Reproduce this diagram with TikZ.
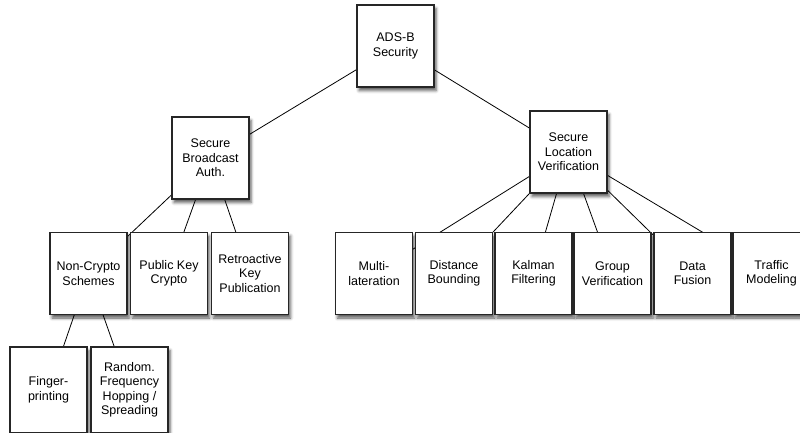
\documentclass[tikz,border=0pt]{standalone}
\usepackage{fontspec}
\setmainfont{Liberation Sans}
\usetikzlibrary{shadows.blur,backgrounds}
\tikzset{
  box/.style={draw=black!85, line width=1.3pt, fill=white, minimum width=77pt, minimum height=82pt,
    inner sep=0pt, align=center, font=\fontsize{12.5}{14.5}\selectfont,
    blur shadow={shadow xshift=2pt, shadow yshift=-3.5pt, shadow blur radius=3pt, shadow opacity=65}},
  tall/.style={box, minimum height=86pt},
  link/.style={draw=black, line width=0.8pt}
}
\begin{document}
\begin{tikzpicture}[x=1pt,y=-1pt]
\useasboundingbox (0,0) rectangle (800,432);
\clip (0,0) rectangle (800,432);
\node[box] (ads) at (395.5,46) {ADS-B\\Security};
\node[box] (sba) at (210.5,158) {Secure\\Broadcast\\Auth.};
\node[box] (slv) at (568.5,152) {Secure\\Location\\Verification};
\node[box] (nc) at (88.5,273.5) {Non-Crypto\\Schemes};
\node[box] (pk) at (169,273.5) {Public Key\\Crypto};
\node[box] (ra) at (250,273.5) {Retroactive\\Key\\Publication};
\node[box] (ml) at (374,273.5) {Multi-\\lateration};
\node[box] (db) at (454,273.5) {Distance\\Bounding};
\node[box] (kf) at (533.5,273.5) {Kalman\\Filtering};
\node[box] (gv) at (612.5,273.5) {Group\\Verification};
\node[box] (df) at (692.5,273.5) {Data\\Fusion};
\node[box] (tm) at (771.5,273.5) {Traffic\\Modeling};
\node[tall] (fp) at (48.5,390) {Finger-\\printing};
\node[tall] (rf) at (129.5,390) {Random.\\Frequency\\Hopping /\\Spreading};
\begin{pgfonlayer}{background}
\draw[link] (ads.center) -- (sba.center);
\draw[link] (ads.center) -- (slv.center);
\draw[link] (sba.center) -- (nc.center);
\draw[link] (sba.center) -- (pk.center);
\draw[link] (sba.center) -- (ra.center);
\draw[link] (nc.center) -- (fp.center);
\draw[link] (nc.center) -- (rf.center);
\draw[link] (slv.center) -- (ml.center);
\draw[link] (slv.center) -- (db.center);
\draw[link] (slv.center) -- (kf.center);
\draw[link] (slv.center) -- (gv.center);
\draw[link] (slv.center) -- (df.center);
\draw[link] (slv.center) -- (tm.center);
\end{pgfonlayer}
\end{tikzpicture}
\end{document}
